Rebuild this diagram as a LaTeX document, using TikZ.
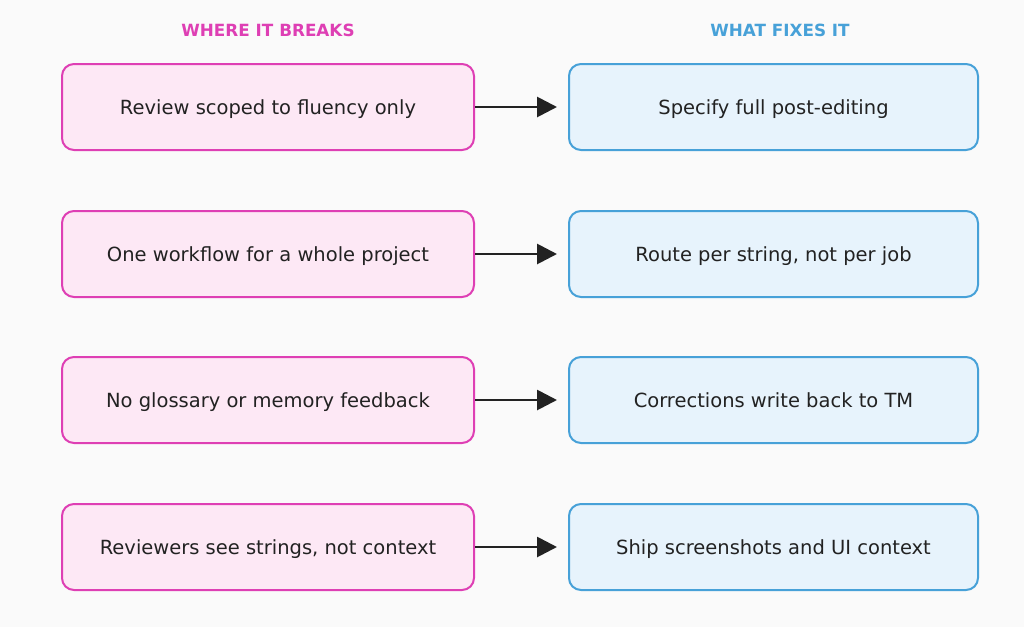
\documentclass[tikz,border=0pt]{standalone}
\usepackage{fontspec}
\setmainfont{DejaVu Sans}
\usetikzlibrary{arrows.meta}
\definecolor{bgcol}{HTML}{FAFAFA}
\definecolor{breakline}{HTML}{DE3FB4}
\definecolor{breakfill}{HTML}{FDE8F5}
\definecolor{fixline}{HTML}{47A1D8}
\definecolor{fixfill}{HTML}{E7F3FC}
\definecolor{txt}{HTML}{222222}

\begin{document}
\begin{tikzpicture}[x=1pt, y=-1pt, >={Triangle[length=20pt, width=20pt]},
  box/.style={rounded corners=12pt, line width=2pt, minimum height=86pt,
    text height=16pt, text depth=2pt,
    text=txt, font=\fontsize{19.5}{23}\selectfont},
  breakbox/.style={box, draw=breakline, fill=breakfill, minimum width=412pt},
  fixbox/.style={box, draw=fixline, fill=fixfill, minimum width=409pt},
  head/.style={font=\fontsize{16.8}{20}\selectfont\bfseries}]
  \fill[bgcol] (0,0) rectangle (1024,627);
  \useasboundingbox (0,0) rectangle (1024,627);
  % column headers
  \node[head, text=breakline] (hbreak) at (268,30) {WHERE IT BREAKS};
  \node[head, text=fixline] (hfix) at (780,30) {WHAT FIXES IT};
  % rows
  \foreach \i/\y/\problem/\fix in {
      1/107/Review scoped to fluency only/Specify full post-editing,
      2/254/One workflow for a whole project/{Route per string, not per job},
      3/400/No glossary or memory feedback/Corrections write back to TM,
      4/547/{Reviewers see strings, not context}/Ship screenshots and UI context} {
    \node[breakbox] (b\i) at (268,\y) {\problem};
    \node[fixbox] (f\i) at (773.5,\y) {\fix};
    \draw[->, line width=2.8pt, txt, shorten >=11pt] (b\i.east) -- (f\i.west);
  }
\end{tikzpicture}
\end{document}
